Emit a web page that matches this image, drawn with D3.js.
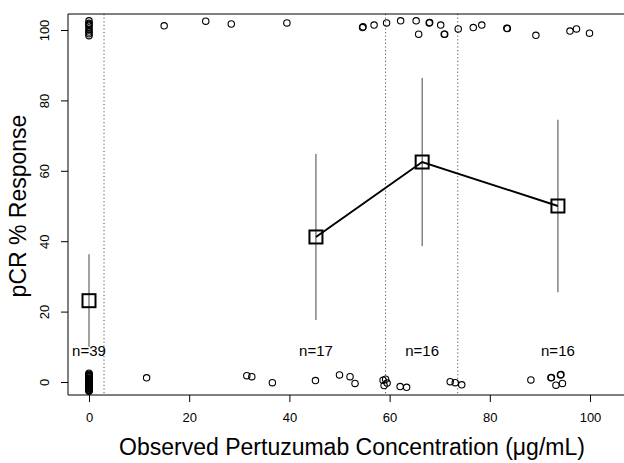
<!DOCTYPE html>
<html>
<head>
<meta charset="utf-8">
<script src="https://cdn.jsdelivr.net/npm/d3@7"></script>
<style>
  body { margin: 0; background: #fff; }
  svg { font-family: "Liberation Sans", Arial, Helvetica, sans-serif; }
</style>
</head>
<body>
<div id="chart"></div>
<script>
// observed concentration (x) and jittered response (0 / 100) per patient
var obsConc = [
  // x = 0, responders
  0, 0, 0, 0, 0, 0, 0, 0, 0,
  // x = 0, non-responders
  0, 0, 0, 0, 0, 0, 0, 0, 0, 0, 0, 0, 0, 0, 0, 0, 0, 0, 0, 0, 0, 0, 0, 0, 0, 0, 0, 0, 0, 0,
  // responders
  15.0, 23.3, 28.4, 39.5, 54.6, 54.7, 56.9, 59.4, 62.2, 65.3, 65.8, 67.9, 68.0, 70.2, 70.9, 71.0,
  73.7, 76.7, 78.4, 83.4, 89.2, 96.0, 97.3, 99.9, 83.5,
  // non-responders
  11.5, 31.5, 32.5, 36.6, 45.2, 50.0, 52.1, 53.1, 58.7, 58.9, 59.2, 59.5, 62.1, 63.4,
  72.1, 73.1, 74.4, 88.2, 92.2, 93.2, 94.1, 94.5, 92.3, 94.2
];
var obsResp = [
  102.6, 101.9, 101.3, 100.6, 100.0, 99.4, 98.9, 98.4, 101.6,
  2.5, 2.2, 1.9, 1.6, 1.4, 1.1, 0.9, 0.6, 0.4, 0.2, 0.0, -0.2, -0.4, -0.6, -0.8, -1.0,
  -1.2, -1.4, -1.6, -1.8, -2.0, -2.2, -2.4, -2.6, 1.7, 0.8, -0.3, -1.5, 2.0, -2.3,
  101.2, 102.5, 101.7, 102.0, 100.7, 100.9, 101.4, 102.0, 102.6, 102.6, 98.8, 102.0, 102.1, 101.4, 98.8, 98.8,
  100.3, 100.7, 101.4, 100.5, 98.5, 99.7, 100.3, 99.1, 100.4,
  1.2, 1.8, 1.5, -0.2, 0.4, 2.0, 1.5, -0.4, 0.5, -1.0, 0.8, -0.3, -1.3, -1.5,
  0.1, -0.2, -0.8, 0.6, 1.2, -0.9, 2.0, -0.4, 1.3, 2.1
];

// summary per concentration group
var groupMid = [0, 45.3, 66.5, 93.6];
var groupPct = [23.1, 41.2, 62.5, 50.0];
var groupLo = [10.0, 17.6, 38.6, 25.5];
var groupHi = [36.3, 64.8, 86.4, 74.5];
var groupN = ["n=39", "n=17", "n=16", "n=16"];
var cutPoints = [3.0, 59.2, 73.6];

var xTicks = [0, 20, 40, 60, 80, 100];
var yTicks = [0, 20, 40, 60, 80, 100];

var W = 624, H = 463;
var boxL = 68, boxT = 14, boxB = 395, boxR = 640;

var x = d3.scaleLinear().domain([0, 100]).range([89, 590]);
var y = d3.scaleLinear().domain([0, 100]).range([382, 30]);

var svg = d3.select("#chart").append("svg")
  .attr("width", W)
  .attr("height", H);

// cut point lines
svg.selectAll(".cut")
  .data(cutPoints)
  .enter().append("line")
  .attr("x1", function(d){ return x(d); })
  .attr("x2", function(d){ return x(d); })
  .attr("y1", boxT)
  .attr("y2", boxB)
  .attr("stroke", "#555")
  .attr("stroke-width", 1)
  .attr("stroke-dasharray", "1.2,2.4");

// observations
svg.selectAll(".obs")
  .data(obsConc)
  .enter().append("circle")
  .attr("cx", function(d){ return x(d); })
  .attr("cy", function(d, i){ return y(obsResp[i]); })
  .attr("r", 3.2)
  .attr("fill", "none")
  .attr("stroke", "#000")
  .attr("stroke-width", 1.1);

// error bars
svg.selectAll(".err")
  .data(groupMid)
  .enter().append("line")
  .attr("x1", function(d){ return x(d); })
  .attr("x2", function(d){ return x(d); })
  .attr("y1", function(d, i){ return y(groupHi[i]); })
  .attr("y2", function(d, i){ return y(groupLo[i]); })
  .attr("stroke", "#444")
  .attr("stroke-width", 1);

// line joining groups 2-4
var line = d3.line()
  .x(function(d){ return x(d[0]); })
  .y(function(d){ return y(d[1]); });
var pts = groupMid.map(function(d, i){ return [d, groupPct[i]]; }).slice(1);
svg.append("path")
  .attr("d", line(pts))
  .attr("fill", "none")
  .attr("stroke", "#000")
  .attr("stroke-width", 2);

// squares
var sq = 13;
svg.selectAll(".sq")
  .data(groupMid)
  .enter().append("rect")
  .attr("x", function(d){ return x(d) - sq / 2; })
  .attr("y", function(d, i){ return y(groupPct[i]) - sq / 2; })
  .attr("width", sq)
  .attr("height", sq)
  .attr("fill", "none")
  .attr("stroke", "#000")
  .attr("stroke-width", 2);

// n labels
svg.selectAll(".nlab")
  .data(groupMid)
  .enter().append("text")
  .attr("x", function(d){ return x(d); })
  .attr("y", y(9))
  .attr("dy", "0.35em")
  .attr("text-anchor", "middle")
  .attr("font-size", 15)
  .text(function(d, i){ return groupN[i]; });

// box (right side falls outside the picture)
svg.append("path")
  .attr("d", "M" + boxR + "," + boxT + "H" + boxL + "V" + boxB + "H" + boxR)
  .attr("fill", "none")
  .attr("stroke", "#000")
  .attr("stroke-width", 1);

// axes
var xAxis = d3.axisBottom(x).tickValues(xTicks).tickSize(7).tickPadding(11);
var gx = svg.append("g")
  .attr("transform", "translate(0," + boxB + ")")
  .call(xAxis);
gx.select(".domain").remove();
gx.selectAll("text").attr("font-size", 13).attr("font-family", null).attr("fill", "#000");

var yAxis = d3.axisLeft(y).tickValues(yTicks).tickSize(7);
var gy = svg.append("g")
  .attr("transform", "translate(" + boxL + ",0)")
  .call(yAxis);
gy.select(".domain").remove();
gy.selectAll("text")
  .attr("transform", "rotate(-90)")
  .attr("x", 0)
  .attr("y", -19)
  .attr("dy", null)
  .attr("text-anchor", "middle")
  .attr("font-size", 13)
  .attr("font-family", null)
  .attr("fill", "#000");

// axis titles
svg.append("text")
  .attr("x", 352)
  .attr("y", 455)
  .attr("text-anchor", "middle")
  .attr("font-size", 23)
  .text("Observed Pertuzumab Concentration (\u03bcg/mL)");

svg.append("text")
  .attr("transform", "translate(26,206) rotate(-90)")
  .attr("text-anchor", "middle")
  .attr("font-size", 23)
  .text("pCR % Response");
</script>
</body>
</html>
